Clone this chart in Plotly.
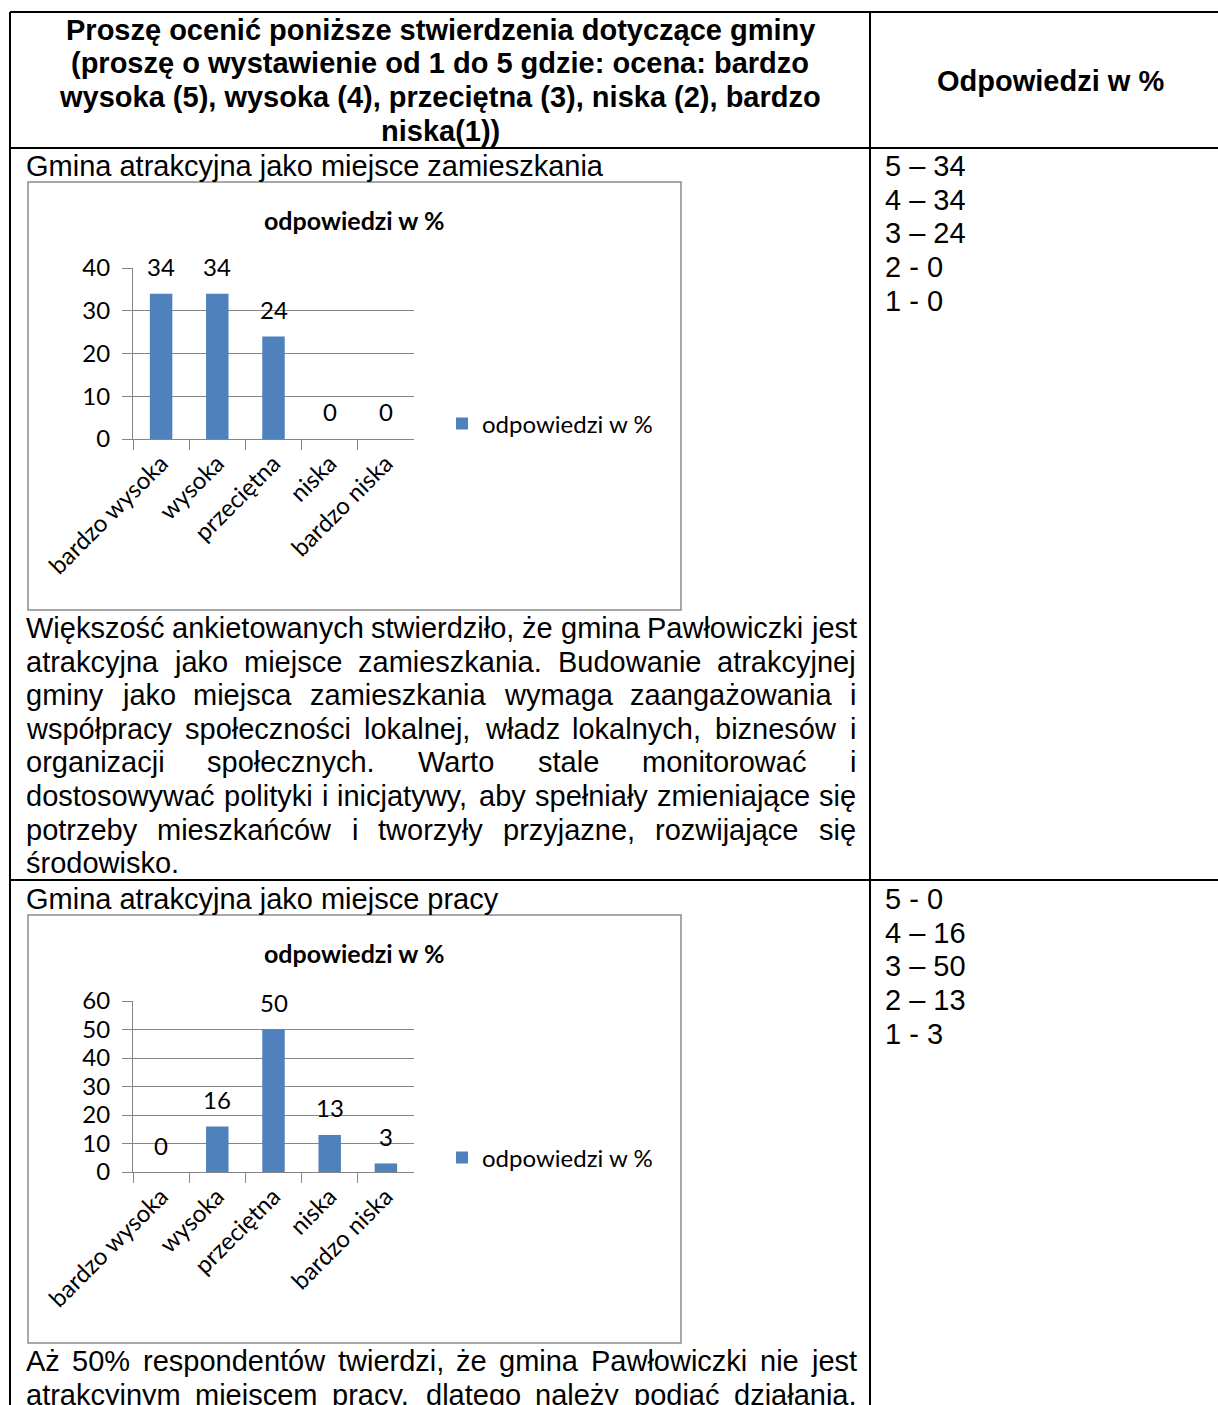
import plotly.graph_objects as go

W, H = 1218, 1405

# ---------------- data ----------------
categories = ["bardzo wysoka", "wysoka", "przeciętna", "niska", "bardzo niska"]
mieszkanie_values = [34, 34, 24, 0, 0]
praca_values = [0, 16, 50, 13, 3]
series_name = "odpowiedzi w %"
chart_title = "odpowiedzi w %"
y1_ticks = [0, 10, 20, 30, 40]
y2_ticks = [0, 10, 20, 30, 40, 50, 60]
mieszkanie_list = ["5 – 34", "4 – 34", "3 – 24", "2 - 0", "1 - 0"]
praca_list = ["5 - 0", "4 – 16", "3 – 50", "2 – 13", "1 - 3"]

header_left = [
    "Proszę ocenić poniższe stwierdzenia dotyczące gminy",
    "(proszę o wystawienie od 1 do 5 gdzie: ocena: bardzo",
    "wysoka (5), wysoka (4), przeciętna (3), niska (2), bardzo",
    "niska(1))",
]
header_right = "Odpowiedzi w %"
row1_label = "Gmina atrakcyjna jako miejsce zamieszkania"
row2_label = "Gmina atrakcyjna jako miejsce pracy"
para1_lines = [
    "Większość ankietowanych stwierdziło, że gmina Pawłowiczki jest",
    "atrakcyjna jako miejsce zamieszkania. Budowanie atrakcyjnej",
    "gminy jako miejsca zamieszkania wymaga zaangażowania i",
    "współpracy społeczności lokalnej, władz lokalnych, biznesów i",
    "organizacji społecznych. Warto stale monitorować i",
    "dostosowywać polityki i inicjatywy, aby spełniały zmieniające się",
    "potrzeby mieszkańców i tworzyły przyjazne, rozwijające się",
    "środowisko.",
]
para2_lines = [
    "Aż 50% respondentów twierdzi, że gmina Pawłowiczki nie jest",
    "atrakcyjnym miejscem pracy, dlatego należy podjąć działania,",
]

# ---------------- styles ----------------
DOC_FONT = "Liberation Sans, Arial, sans-serif"
CH_FONT = "Lato, Calibri, sans-serif"
FS = 29
LINE = 33.6
BAR_COLOR = "#4F81BD"
GRAY = "#868686"
FRAME = "#8c8c8c"
CH_FS = 24


def X(px):
    return px / W


def Y(py):
    return 1 - py / H


# Arial / Liberation Sans advance widths (1/1000 em)
AW = {' ': 278, ',': 278, '.': 278, '%': 889, '-': 333, '–': 556, '(': 333, ')': 333,
      'a': 556, 'b': 556, 'c': 500, 'd': 556, 'e': 556, 'f': 278, 'g': 556, 'h': 556,
      'i': 222, 'j': 222, 'k': 500, 'l': 222, 'm': 833, 'n': 556, 'o': 556, 'p': 556,
      'q': 556, 'r': 333, 's': 500, 't': 278, 'u': 556, 'v': 500, 'w': 722, 'x': 500,
      'y': 500, 'z': 500, 'ą': 556, 'ć': 500, 'ę': 556, 'ł': 222, 'ń': 556, 'ó': 556,
      'ś': 500, 'ź': 500, 'ż': 500, 'A': 667, 'B': 667, 'G': 778, 'P': 667, 'W': 944}
for d in "0123456789":
    AW[d] = 556


def text_w(s, fs=FS):
    return sum(AW.get(ch, 556) for ch in s) * fs / 1000.0


annotations = []
shapes = []


def add_text(txt, px, py, anchor="left", size=FS, bold=False, family=DOC_FONT):
    annotations.append(dict(
        text=("<b>%s</b>" % txt) if bold else txt,
        x=X(px), y=Y(py), xref="paper", yref="paper",
        xanchor=anchor, yanchor="middle", showarrow=False,
        font=dict(family=family, size=size, color="black"),
        borderpad=0,
    ))


def add_justified(lines, py0, left=25, right=855, last_left=True):
    for k, line in enumerate(lines):
        py = py0 + k * LINE
        words = line.split(" ")
        is_last = (k == len(lines) - 1) and last_left
        if is_last or len(words) == 1:
            add_text(line, left, py)
            continue
        total = sum(text_w(w) for w in words)
        gap = (right - left - total) / (len(words) - 1)
        xpos = left
        for w in words:
            add_text(w, xpos, py)
            xpos += text_w(w) + gap


# ---------------- table ----------------
def hline(y, x0, x1, w=2):
    shapes.append(dict(type="line", xref="paper", yref="paper",
                       x0=X(x0), x1=X(x1), y0=Y(y), y1=Y(y),
                       line=dict(color="black", width=w)))


def vline(x, y0, y1, w=2):
    shapes.append(dict(type="line", xref="paper", yref="paper",
                       x0=X(x), x1=X(x), y0=Y(y0), y1=Y(y1),
                       line=dict(color="black", width=w)))


hline(12, 10, 1218)
hline(148, 10, 1218)
hline(880, 10, 1218)
vline(10, 12, 1405)
vline(870, 12, 1405)

# chart frames
for (top, bot) in [(182, 610), (915, 1343)]:
    shapes.append(dict(type="rect", xref="paper", yref="paper",
                       x0=X(28), x1=X(681), y0=Y(bot), y1=Y(top),
                       line=dict(color=FRAME, width=1.5)))

# header
for k, line in enumerate(header_left):
    add_text(line, 440, 30 + k * 33.5, anchor="center", bold=True)
add_text(header_right, 1050, 81, anchor="center", bold=True)

# row labels and right-column lists
add_text(row1_label, 25, 166)
add_text(row2_label, 25, 899)
for k, s in enumerate(mieszkanie_list):
    add_text(s, 884, 166 + k * 33.7)
for k, s in enumerate(praca_list):
    add_text(s, 884, 899 + k * 33.7)

# paragraphs
add_justified(para1_lines, 628)
add_justified(para2_lines, 1361, last_left=False)

# ---------------- charts ----------------
fig = go.Figure()
fig.add_trace(go.Bar(x=categories, y=mieszkanie_values, name=series_name,
                     marker=dict(color=BAR_COLOR, line=dict(width=0)), width=0.4,
                     xaxis="x", yaxis="y", legend="legend", hoverinfo="skip"))
fig.add_trace(go.Bar(x=categories, y=praca_values, name=series_name,
                     marker=dict(color=BAR_COLOR, line=dict(width=0)), width=0.4,
                     xaxis="x2", yaxis="y2", legend="legend2", hoverinfo="skip"))

tick_font = dict(family=CH_FONT, size=CH_FS, color="black")
lab_font = dict(family=CH_FONT, size=CH_FS, color="black")


def xaxis_cfg(anchor):
    return dict(domain=[X(133), X(414)], anchor=anchor, type="category",
                tickangle=-45, ticks="outside", tickson="boundaries", ticklen=10,
                tickcolor=GRAY, showline=True, linecolor=GRAY, linewidth=1,
                showgrid=False, zeroline=False, tickfont=lab_font, fixedrange=True,
                automargin=False)


def yaxis_cfg(anchor, bottom, top, rng, tv):
    return dict(domain=[Y(bottom), Y(top)], anchor=anchor, range=rng, tickvals=tv,
                showgrid=True, gridcolor=GRAY, gridwidth=1, ticks="outside",
                ticklen=10, tickcolor=GRAY, showline=True, linecolor=GRAY,
                linewidth=1, zeroline=False, tickfont=tick_font,
                ticklabelstandoff=7, fixedrange=True, automargin=False)


# chart titles
add_text(chart_title, 354, 220, anchor="center", size=25, bold=True, family=CH_FONT)
add_text(chart_title, 354, 953, anchor="center", size=25, bold=True, family=CH_FONT)

# data labels
for xr, yr, vals in [("x", "y", mieszkanie_values), ("x2", "y2", praca_values)]:
    for c, v in zip(categories, vals):
        annotations.append(dict(text=str(v), x=c, y=v, xref=xr, yref=yr,
                                xanchor="center", yanchor="middle", yshift=27,
                                showarrow=False, font=lab_font))

leg = dict(xanchor="left", yanchor="middle", font=dict(family=CH_FONT, size=CH_FS, color="black"),
           bgcolor="rgba(0,0,0,0)", itemwidth=30, borderwidth=0)

fig.update_layout(
    width=W, height=H, margin=dict(l=0, r=0, t=0, b=0, pad=0, autoexpand=False),
    paper_bgcolor="white", plot_bgcolor="white",
    showlegend=True, bargap=0.6,
    xaxis=xaxis_cfg("y"),
    yaxis=yaxis_cfg("x", 439, 268, [0, 40], y1_ticks),
    xaxis2=xaxis_cfg("y2"),
    yaxis2=yaxis_cfg("x2", 1172, 1001, [0, 60], y2_ticks),
    legend=dict(leg, x=X(442), y=Y(424)),
    legend2=dict(leg, x=X(442), y=Y(1158)),
    annotations=annotations,
    shapes=shapes,
)

fig.write_html("out.html", config={"displayModeBar": False},
               post_script="document.body.style.margin='0';document.body.style.overflow='hidden';")
